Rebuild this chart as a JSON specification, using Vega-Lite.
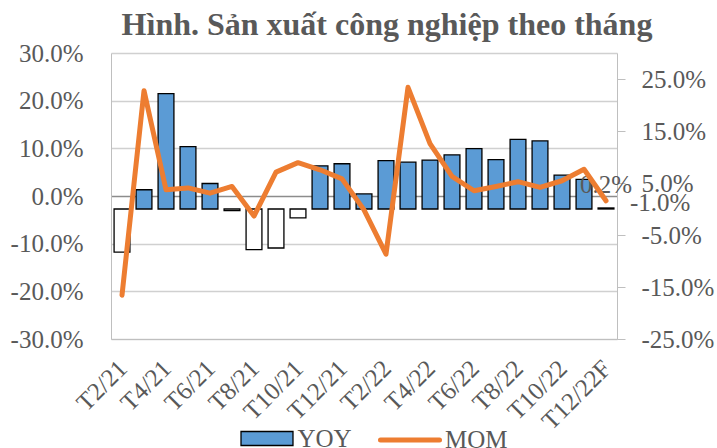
{
  "$schema": "https://vega.github.io/schema/vega-lite/v6.json",
  "width": 506,
  "height": 286,
  "autosize": {"type": "none"},
  "padding": {"left": 111, "top": 53, "right": 100, "bottom": 109},
  "title": {
    "text": "Hình. Sản xuất công nghiệp theo tháng",
    "font": "Liberation Serif",
    "fontSize": 32,
    "fontWeight": "bold",
    "color": "#595959",
    "anchor": "middle",
    "baseline": "alphabetic",
    "offset": 15,
    "dx": 23,
    "dy": 41
  },
  "data": {
    "values": [
      {"month": "T2/21", "YOY": -0.083, "MOM": -0.208},
      {"month": "T3/21", "YOY": 0.037, "MOM": 0.221},
      {"month": "T4/21", "YOY": 0.222, "MOM": 0.013},
      {"month": "T5/21", "YOY": 0.120, "MOM": 0.017},
      {"month": "T6/21", "YOY": 0.049, "MOM": 0.006},
      {"month": "T7/21", "YOY": -0.003, "MOM": 0.020},
      {"month": "T8/21", "YOY": -0.078, "MOM": -0.042},
      {"month": "T9/21", "YOY": -0.075, "MOM": 0.050},
      {"month": "T10/21", "YOY": -0.017, "MOM": 0.070},
      {"month": "T11/21", "YOY": 0.083, "MOM": 0.055},
      {"month": "T12/21", "YOY": 0.087, "MOM": 0.036},
      {"month": "T1/22", "YOY": 0.029, "MOM": -0.029},
      {"month": "T2/22", "YOY": 0.093, "MOM": -0.122},
      {"month": "T3/22", "YOY": 0.090, "MOM": 0.228},
      {"month": "T4/22", "YOY": 0.094, "MOM": 0.110},
      {"month": "T5/22", "YOY": 0.104, "MOM": 0.041},
      {"month": "T6/22", "YOY": 0.116, "MOM": 0.011},
      {"month": "T7/22", "YOY": 0.095, "MOM": 0.020},
      {"month": "T8/22", "YOY": 0.134, "MOM": 0.030},
      {"month": "T9/22", "YOY": 0.131, "MOM": 0.018},
      {"month": "T10/22", "YOY": 0.065, "MOM": 0.032},
      {"month": "T11/22", "YOY": 0.057, "MOM": 0.056},
      {"month": "T12/22F", "YOY": 0.002, "MOM": -0.010}
    ]
  },
  "encoding": {
    "x": {
      "field": "month",
      "type": "ordinal",
      "sort": null,
      "scale": {
        "domain": ["T2/21", "T3/21", "T4/21", "T5/21", "T6/21", "T7/21", "T8/21", "T9/21", "T10/21", "T11/21", "T12/21", "T1/22", "T2/22", "T3/22", "T4/22", "T5/22", "T6/22", "T7/22", "T8/22", "T9/22", "T10/22", "T11/22", "T12/22F"],
        "paddingInner": 0.28,
        "paddingOuter": 0.14
      },
      "axis": {
        "title": null,
        "values": ["T2/21", "T4/21", "T6/21", "T8/21", "T10/21", "T12/21", "T2/22", "T4/22", "T6/22", "T8/22", "T10/22", "T12/22F"],
        "labelAngle": -45,
        "labelAlign": "right",
        "labelBaseline": "middle",
        "labelPadding": 25,
        "labelOffset": 1,
        "ticks": false,
        "tickSize": 0,
        "domain": true,
        "domainColor": "#bfbfbf",
        "labelOverlap": false,
        "labelBound": false,
        "grid": false
      }
    }
  },
  "layer": [
    {
      "layer": [
        {
          "transform": [{"filter": "datum.YOY >= 0"}],
          "mark": {"type": "bar", "stroke": "black", "strokeWidth": 1.3},
          "encoding": {
            "y": {
              "field": "YOY",
              "type": "quantitative",
              "scale": {"domain": [-0.25, 0.3], "nice": false},
              "axis": {
                "orient": "right",
                "title": null,
                "values": [-0.25, -0.15, -0.05, 0.05, 0.15, 0.25],
                "format": ".1%",
                "grid": false,
                "ticks": true,
                "tickSize": 8,
                "tickColor": "#bfbfbf",
                "domainColor": "#bfbfbf",
                "labelPadding": 16
              }
            },
            "fill": {
              "datum": "YOY",
              "type": "nominal",
              "scale": {"domain": ["YOY"], "range": ["#5B9BD5"]},
              "legend": {
                "orient": "none",
                "legendX": 127.5,
                "legendY": 357,
                "title": null,
                "padding": 0,
                "symbolType": "M-0.945,-0.255L0.945,-0.255L0.945,0.255L-0.945,0.255Z",
                "symbolSize": 3025,
                "symbolStrokeColor": "black",
                "symbolStrokeWidth": 1.3,
                "symbolOpacity": 1,
                "labelOffset": 2,
                "labelFont": "Liberation Serif",
                "labelFontSize": 25,
                "labelColor": "#595959"
              }
            }
          }
        },
        {
          "transform": [{"filter": "datum.YOY < 0"}],
          "mark": {"type": "bar", "fill": "white", "stroke": "black", "strokeWidth": 1.3},
          "encoding": {
            "y": {"field": "YOY", "type": "quantitative", "axis": {"title": null}}
          }
        },
        {
          "transform": [{"filter": "datum.month === 'T12/22F'"}],
          "mark": {"type": "text", "font": "Liberation Serif", "fontSize": 25, "color": "#595959", "align": "center", "baseline": "alphabetic", "dy": -15},
          "encoding": {
            "y": {"field": "YOY", "type": "quantitative", "axis": {"title": null}},
            "text": {"field": "YOY", "type": "quantitative", "format": ".1%"}
          }
        }
      ]
    },
    {
      "layer": [
        {
          "mark": {"type": "line", "strokeWidth": 5, "strokeCap": "round", "strokeJoin": "round"},
          "encoding": {
            "y": {
              "field": "MOM",
              "type": "quantitative",
              "scale": {"domain": [-0.3, 0.3], "nice": false},
              "axis": {
                "orient": "left",
                "title": null,
                "values": [-0.3, -0.2, -0.1, 0, 0.1, 0.2, 0.3],
                "format": ".1%",
                "grid": true,
                "gridColor": {"condition": {"test": "datum.value === 0", "value": "#8c8c8c"}, "value": "#d0d0d0"},
                "gridWidth": 1.3,
                "ticks": false,
                "tickSize": 0,
                "domainColor": "#bfbfbf",
                "labelPadding": 28
              }
            },
            "stroke": {
              "datum": "MOM",
              "type": "nominal",
              "scale": {"domain": ["MOM"], "range": ["#ED7D31"]},
              "legend": {
                "orient": "none",
                "legendX": 269,
                "legendY": 357,
                "title": null,
                "padding": 0,
                "symbolSize": 3025,
                "symbolStrokeWidth": 0,
                "labelOffset": 5,
                "labelFont": "Liberation Serif",
                "labelFontSize": 25,
                "labelColor": "#595959",
                "encode": {
                  "symbols": {
                    "update": {
                      "shape": {"value": "M-1.073,0L1.073,0"},
                      "fill": {"value": "transparent"},
                      "stroke": {"value": "#ED7D31"},
                      "strokeWidth": {"value": 5},
                      "strokeCap": {"value": "round"},
                      "opacity": {"value": 1}
                    }
                  }
                }
              }
            }
          }
        },
        {
          "transform": [{"filter": "datum.month === 'T12/22F'"}],
          "mark": {"type": "text", "font": "Liberation Serif", "fontSize": 25, "color": "#595959", "align": "left", "baseline": "middle", "dx": 24, "dy": 2},
          "encoding": {
            "y": {"field": "MOM", "type": "quantitative", "axis": {"title": null}},
            "text": {"field": "MOM", "type": "quantitative", "format": ".1%"}
          }
        }
      ]
    }
  ],
  "resolve": {"scale": {"y": "independent"}},
  "config": {
    "font": "Liberation Serif",
    "view": {"stroke": null},
    "locale": {
      "number": {"decimal": ".", "thousands": ",", "grouping": [3], "currency": ["$", ""], "minus": "-"}
    },
    "axis": {
      "labelFont": "Liberation Serif",
      "labelFontSize": 25,
      "labelColor": "#595959"
    }
  }
}
